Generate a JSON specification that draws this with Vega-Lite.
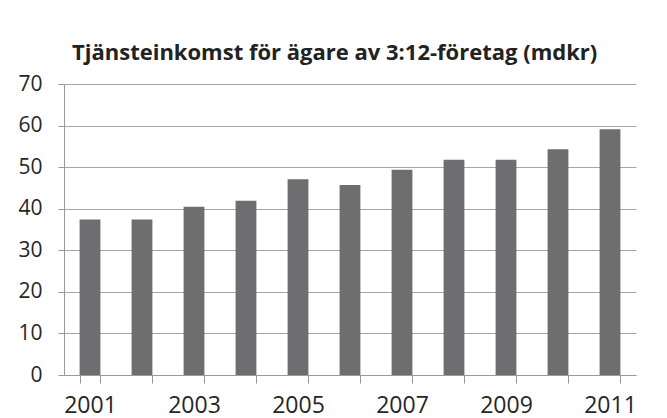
{
  "$schema": "https://vega.github.io/schema/vega-lite/v6.json",
  "autosize": "none",
  "width": 572,
  "height": 291,
  "padding": {"left": 64, "top": 84, "right": 31, "bottom": 43},
  "background": "white",
  "title": {
    "text": "Tjänsteinkomst för ägare av 3:12-företag (mdkr)",
    "font": "Open Sans",
    "fontSize": 22,
    "fontWeight": "bold",
    "color": "#222222",
    "anchor": "start",
    "frame": "group",
    "dx": 8,
    "offset": 8
  },
  "data": {
    "values": [
      {"year": 2001, "value": 37.4},
      {"year": 2002, "value": 37.4},
      {"year": 2003, "value": 40.5},
      {"year": 2004, "value": 41.9},
      {"year": 2005, "value": 47.1},
      {"year": 2006, "value": 45.7},
      {"year": 2007, "value": 49.4},
      {"year": 2008, "value": 51.8},
      {"year": 2009, "value": 51.8},
      {"year": 2010, "value": 54.3},
      {"year": 2011, "value": 59.1}
    ]
  },
  "mark": {"type": "bar", "color": "#6e6e70"},
  "encoding": {
    "x": {
      "field": "year",
      "type": "ordinal",
      "scale": {"paddingInner": 0.6, "paddingOuter": 0.3},
      "axis": {
        "title": null,
        "labelAngle": 0,
        "labelExpr": "datum.value % 2 == 1 ? datum.label : ''",
        "labelFont": "Open Sans",
        "labelFontSize": 23,
        "labelColor": "#262626",
        "labelPadding": 11,
        "tickBand": "extent",
        "tickSize": 8,
        "tickColor": "#999999",
        "domainColor": "#999999",
        "grid": false
      }
    },
    "y": {
      "field": "value",
      "type": "quantitative",
      "scale": {"domain": [0, 70], "nice": false},
      "axis": {
        "title": null,
        "values": [0, 10, 20, 30, 40, 50, 60, 70],
        "labelFont": "Open Sans",
        "labelFontSize": 21,
        "labelColor": "#262626",
        "labelPadding": 16,
        "tickSize": 6,
        "tickColor": "#999999",
        "domainColor": "#999999",
        "grid": true,
        "gridColor": "#a6a6a6"
      }
    }
  },
  "config": {"view": {"stroke": null}}
}
